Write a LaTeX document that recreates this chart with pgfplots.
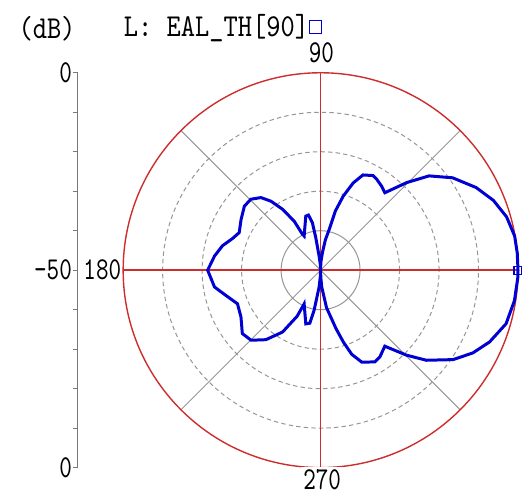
\documentclass[border=0pt]{standalone}
\usepackage{pgfplots}
\pgfplotsset{compat=1.18}
\usepackage{pgfplotstable}
\usepackage{fontspec}
\newfontfamily\lblfam{lmmono10-regular}[Extension=.otf, FakeStretch=0.75]
\newfontfamily\legfam{lmmono10-regular}[Extension=.otf, FakeStretch=0.85]
\newcommand\lbl{\lblfam\fontsize{16}{18}\selectfont}
\newcommand\leg{\legfam\fontsize{16}{18}\selectfont}

\definecolor{gridred}{RGB}{205,45,45}
\definecolor{patblue}{RGB}{0,0,210}
\definecolor{gridgray}{RGB}{150,150,150}
\definecolor{scalegray}{RGB}{120,120,120}

% Radiation pattern EAL_TH, phi = 90 deg: angle (deg), level (dB)
\pgfplotstableread{
ang   db
0     0.0
5     0.0
10   -0.1
16   -1.0
22   -2.8
28   -5.4
35   -9.2
41   -13.6
45.5 -18.9
50.3 -24.5
54   -23.7
58.5 -22.9
61   -22.6
66   -23.6
69.5 -26.4
73   -30.4
76   -34.6
78   -39.4
81   -42.2
84   -45.5
88   -48.0
90   -50.0
93   -48.5
96   -46.4
98.4 -41.7
99.8 -37.8
102.4 -35.7
105.3 -35.8
115.7 -40.4
116.8 -39.8
118.3 -35.9
122  -31.8
125.7 -28.5
129.4 -26.2
134.5 -24.8
140  -24.8
147.4 -26.1
155.2 -27.3
160.2 -26.3
166  -24.4
172.4 -22.9
180  -21.4
189  -22.8
195  -25.2
202  -27.3
210.5 -26.6
219  -24.5
225.2 -25.0
231.8 -27.6
238.4 -31.6
243  -36.9
244  -40.5
254.6 -35.9
258.5 -36.3
260.8 -39.7
265  -45.7
268  -48.5
270  -50.0
272  -48.0
274  -45.7
279  -40.4
284.8 -34.7
287.6 -30.9
290.3 -27.3
294.1 -24.5
300.6 -23.0
304.4 -23.4
310.2 -24.8
315.3 -19.4
319.6 -14.8
326  -9.5
331.5 -6.1
337  -3.5
343.9 -1.1
351.1 -0.3
358   0.0
360   0.0
}\ealth

% marker point of the trace
\pgfplotstableread{
ang db
0   0.0
}\ealmark

\begin{document}
\begin{tikzpicture}
\begin{axis}[
  x=1.98pt, y=1.98pt,
  xmin=-81.19, xmax=50.63, ymin=-56.57, ymax=68.43,
  hide axis, clip=false,
  legend plot pos=right,
  legend style={at={(axis cs:-49.8,61.6)}, anchor=west, draw=none, fill=none,
    inner sep=0pt, outer sep=0pt, font=\leg,
    nodes={inner sep=0pt}},
]
% full drawing area
\path (rel axis cs:0,0) rectangle (rel axis cs:1,1);
% rings: -40 dB solid, -30/-20/-10 dB dashed, 0 dB red
\draw[gridgray, line width=0.5pt] (axis cs:0,0) circle[radius=10];
\draw[gridgray, line width=0.5pt, dash pattern=on 2.2pt off 1.6pt] (axis cs:0,0) circle[radius=20];
\draw[gridgray, line width=0.5pt, dash pattern=on 2.2pt off 1.6pt] (axis cs:0,0) circle[radius=30];
\draw[gridgray, line width=0.5pt, dash pattern=on 2.2pt off 1.6pt] (axis cs:0,0) circle[radius=40];
% diagonal spokes
\draw[gridgray, line width=0.5pt] (axis cs:-35.36,-35.36) -- (axis cs:35.36,35.36);
\draw[gridgray, line width=0.5pt] (axis cs:-35.36,35.36) -- (axis cs:35.36,-35.36);
% main cross and outer ring
\draw[gridred, line width=0.7pt] (axis cs:-50,0) -- (axis cs:50,0);
\draw[gridred, line width=0.7pt] (axis cs:0,-50) -- (axis cs:0,50);
\draw[gridred, line width=0.7pt] (axis cs:0,0) circle[radius=50];

% level scale on the left
\draw[scalegray, line width=0.5pt]
  (axis cs:-61.5,50) -- (axis cs:-61.5,-50)
  (axis cs:-61.5,50) -- (axis cs:-62.8,50)
  (axis cs:-61.5,40) -- (axis cs:-62.8,40)
  (axis cs:-61.5,30) -- (axis cs:-62.8,30)
  (axis cs:-61.5,20) -- (axis cs:-62.8,20)
  (axis cs:-61.5,10) -- (axis cs:-62.8,10)
  (axis cs:-61.5,0) -- (axis cs:-62.8,0)
  (axis cs:-61.5,-10) -- (axis cs:-62.8,-10)
  (axis cs:-61.5,-20) -- (axis cs:-62.8,-20)
  (axis cs:-61.5,-30) -- (axis cs:-62.8,-30)
  (axis cs:-61.5,-40) -- (axis cs:-62.8,-40)
  (axis cs:-61.5,-50) -- (axis cs:-62.8,-50);
\node[font=\lbl, anchor=east, inner sep=0pt] at (axis cs:-62.9,50) {0};
\node[font=\lbl, anchor=east, inner sep=0pt] at (axis cs:-62.9,0) {-50};
\node[font=\lbl, anchor=east, inner sep=0pt] at (axis cs:-62.9,-50) {0};
\node[font=\leg, anchor=base west, inner sep=0pt] at (axis cs:-76.6,58.8) {(dB)};

% angle labels
\node[font=\lbl, anchor=east, inner sep=0pt] at (axis cs:-50.4,0) {180};
\node[font=\lbl, anchor=base, inner sep=0pt] at (axis cs:0.2,52.5) {90};
\node[font=\lbl, anchor=base, fill=white, inner sep=1pt] at (axis cs:0.4,-55.5) {270};

% trace: radius = level above the -50 dB centre
\addplot[patblue, line width=1.5pt, forget plot]
  table[
    x expr={(\thisrow{db}+50)*cos(\thisrow{ang})},
    y expr={(\thisrow{db}+50)*sin(\thisrow{ang})}] {\ealth};
\addplot[patblue, only marks, mark=square, mark size=2pt, line width=0.6pt, forget plot]
  table[
    x expr={(\thisrow{db}+50)*cos(\thisrow{ang})},
    y expr={(\thisrow{db}+50)*sin(\thisrow{ang})}] {\ealmark};
\addlegendimage{patblue, only marks, mark=square, mark size=3.2pt, line width=0.5pt}
\addlegendentry{L: EAL\_TH[90]}
\end{axis}
\end{tikzpicture}
\end{document}
